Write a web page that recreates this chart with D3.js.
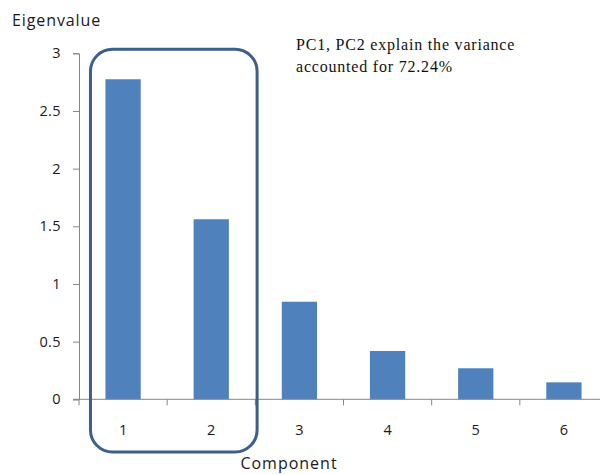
<!DOCTYPE html>
<html>
<head>
<meta charset="utf-8">
<script src="https://cdn.jsdelivr.net/npm/d3@7"></script>
<style>
  body { margin: 0; background: #fff; }
  svg { display: block; }
</style>
</head>
<body>
<script>
// eigenvalues
const components = ["1", "2", "3", "4", "5", "6"];
const eigenvalues = [2.775, 1.561, 0.846, 0.419, 0.269, 0.147];
const yTicks = [0, 0.5, 1, 1.5, 2, 2.5, 3];
const noteLines = ["PC1, PC2 explain the variance", "accounted for 72.24%"];

const width = 600, height = 474;
const plotLeft = 79, plotRight = 608, plotTop = 53.3, plotBottom = 399.3;
const sansFont = "'Open Sans', sans-serif";

const svg = d3.select("body").append("svg")
    .attr("width", width)
    .attr("height", height);

const x = d3.scaleBand()
    .domain(components)
    .range([plotLeft, plotRight])
    .paddingInner(0.6)
    .paddingOuter(0.3);

const y = d3.scaleLinear()
    .domain([0, 3])
    .range([plotBottom, plotTop]);

const step = x.step();

// bars
svg.append("g")
    .selectAll("rect")
    .data(eigenvalues)
    .enter()
    .append("rect")
        .attr("x", (d, i) => x(components[i]))
        .attr("y", d => y(d))
        .attr("width", x.bandwidth())
        .attr("height", d => y(0) - y(d))
        .attr("fill", "#4f81bd");

// y axis
const yAxis = svg.append("g")
    .attr("transform", `translate(${plotLeft},0)`)
    .call(d3.axisLeft(y).tickValues(yTicks).tickSize(6).tickPadding(12).tickFormat(d3.format("")));
yAxis.select(".domain").attr("stroke", "#868686");
yAxis.selectAll(".tick line").attr("stroke", "#868686");
yAxis.selectAll("text")
    .attr("fill", "#1a1a1a")
    .style("font-family", sansFont)
    .style("font-size", "14.5px")
    .style("letter-spacing", "0.4px");

// x axis: ticks between the categories like Excel
const xAxisG = svg.append("g")
    .attr("transform", `translate(0,${plotBottom})`);
xAxisG.append("line")
    .attr("x1", plotLeft - 6).attr("x2", plotRight)
    .attr("stroke", "#868686");
xAxisG.selectAll(".sep")
    .data(d3.range(0, components.length + 1))
    .enter()
    .append("line")
        .attr("class", "sep")
        .attr("x1", i => plotLeft + i * step)
        .attr("x2", i => plotLeft + i * step)
        .attr("y1", 0).attr("y2", 6)
        .attr("stroke", "#868686");
xAxisG.selectAll("text")
    .data(components)
    .enter()
    .append("text")
        .attr("x", d => x(d) + x.bandwidth() / 2)
        .attr("y", 36)
        .attr("text-anchor", "middle")
        .attr("fill", "#1a1a1a")
        .style("font-family", sansFont)
        .style("font-size", "14.5px")
        .text(d => d);

// axis titles
svg.append("text")
    .attr("x", 12).attr("y", 26)
    .attr("fill", "#1a1a1a")
    .style("font-family", sansFont)
    .style("font-size", "16px")
    .style("letter-spacing", "0.9px")
    .text("Eigenvalue");

svg.append("text")
    .attr("x", 289).attr("y", 469)
    .attr("text-anchor", "middle")
    .attr("fill", "#1a1a1a")
    .style("font-family", sansFont)
    .style("font-size", "16px")
    .style("letter-spacing", "1px")
    .text("Component");

// rounded box around PC1 and PC2
const boxLeft = x("1") - step * 0.17;
const boxRight = x("2") + x.bandwidth() + step * 0.32;
svg.append("rect")
    .attr("x", boxLeft)
    .attr("y", y(3) - 4)
    .attr("width", boxRight - boxLeft)
    .attr("height", 452 - (y(3) - 4))
    .attr("rx", 22).attr("ry", 22)
    .attr("fill", "none")
    .attr("stroke", "#3d5f8c")
    .attr("stroke-width", 3);

// note
svg.append("g")
    .selectAll("text")
    .data(noteLines)
    .enter()
    .append("text")
        .attr("x", 296)
        .attr("y", (d, i) => 49.5 + i * 22)
        .attr("fill", "#111")
        .style("font-family", "'Liberation Serif', serif")
        .style("font-size", "16px")
        .style("letter-spacing", "0.8px")
        .text(d => d);
</script>
</body>
</html>
